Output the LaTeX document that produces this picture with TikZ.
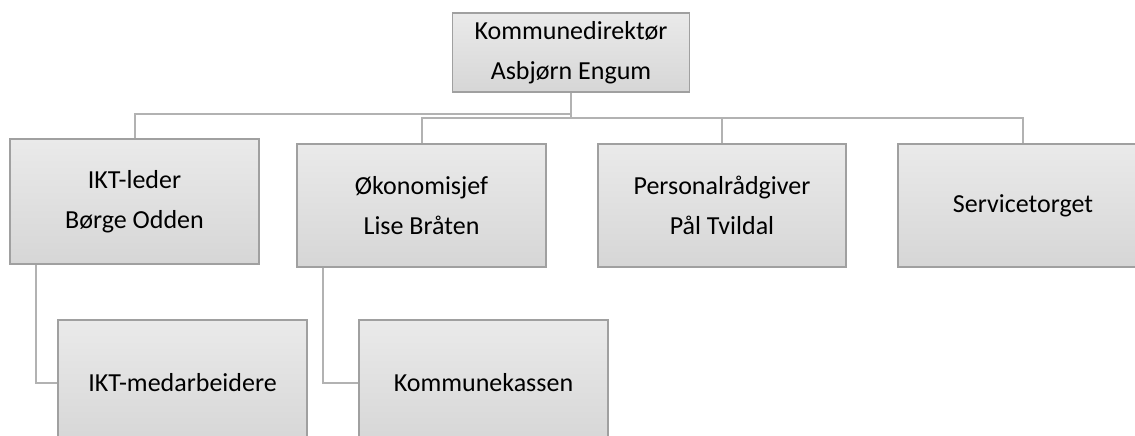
\documentclass[tikz,border=0pt]{standalone}
\usepackage{fontspec}
\setmainfont{Carlito}
\usepackage{tikz}
\usetikzlibrary{
	positioning,
	shadings
}

\definecolor{boxtop}{RGB}{234,234,234}
\definecolor{boxbottom}{RGB}{214,214,214}
\definecolor{boxline}{RGB}{160,160,160}
\definecolor{linkline}{RGB}{178,178,178}

\tikzset{
	unit/.style={
		draw=boxline, line width=1.4pt,
		top color=boxtop, bottom color=boxbottom,
		align=center, inner sep=0pt,
		font=\fontsize{26}{40}\selectfont
	},
	link/.style={draw=linkline, line width=2pt}
}

\begin{document}
\begin{tikzpicture}[x=1pt,y=-1pt]
		\useasboundingbox (0,0) rectangle (1135,436);

		\node[unit,minimum width=237,minimum height=79] (dir)    at (571,52.5)   {Kommunedirektør\\Asbjørn Engum};
		\node[unit,minimum width=249,minimum height=125] (ikt)   at (134.5,201.5) {IKT-leder\\Børge Odden};
		\node[unit,minimum width=249,minimum height=123] (oko)   at (421.5,205.5) {Økonomisjef\\Lise Bråten};
		\node[unit,minimum width=248,minimum height=123] (pers)  at (722,205.5)   {Personalrådgiver\\Pål Tvildal};
		\node[unit,minimum width=250,minimum height=123] (serv)  at (1023,205.5)  {Servicetorget};
		\node[unit,minimum width=249,minimum height=126] (iktmed) at (182.5,383)  {IKT-medarbeidere};
		\node[unit,minimum width=249,minimum height=126] (kasse)  at (483.5,383)  {Kommunekassen};

		% leder-linjer
		\draw[link] (dir.south) -- ++(0,21.5) -| (ikt.north);
		\draw[link] (dir.south) -- ++(0,25) -| (oko.north);
		\draw[link] (dir.south) -- ++(0,25) -| (pers.north);
		\draw[link] (dir.south) -- ++(0,25) -| (serv.north);
		\draw[link] ([xshift=-98.5pt]ikt.south) |- (iktmed.west);
		\draw[link] ([xshift=-99pt]oko.south) |- (kasse.west);
\end{tikzpicture}
\end{document}
